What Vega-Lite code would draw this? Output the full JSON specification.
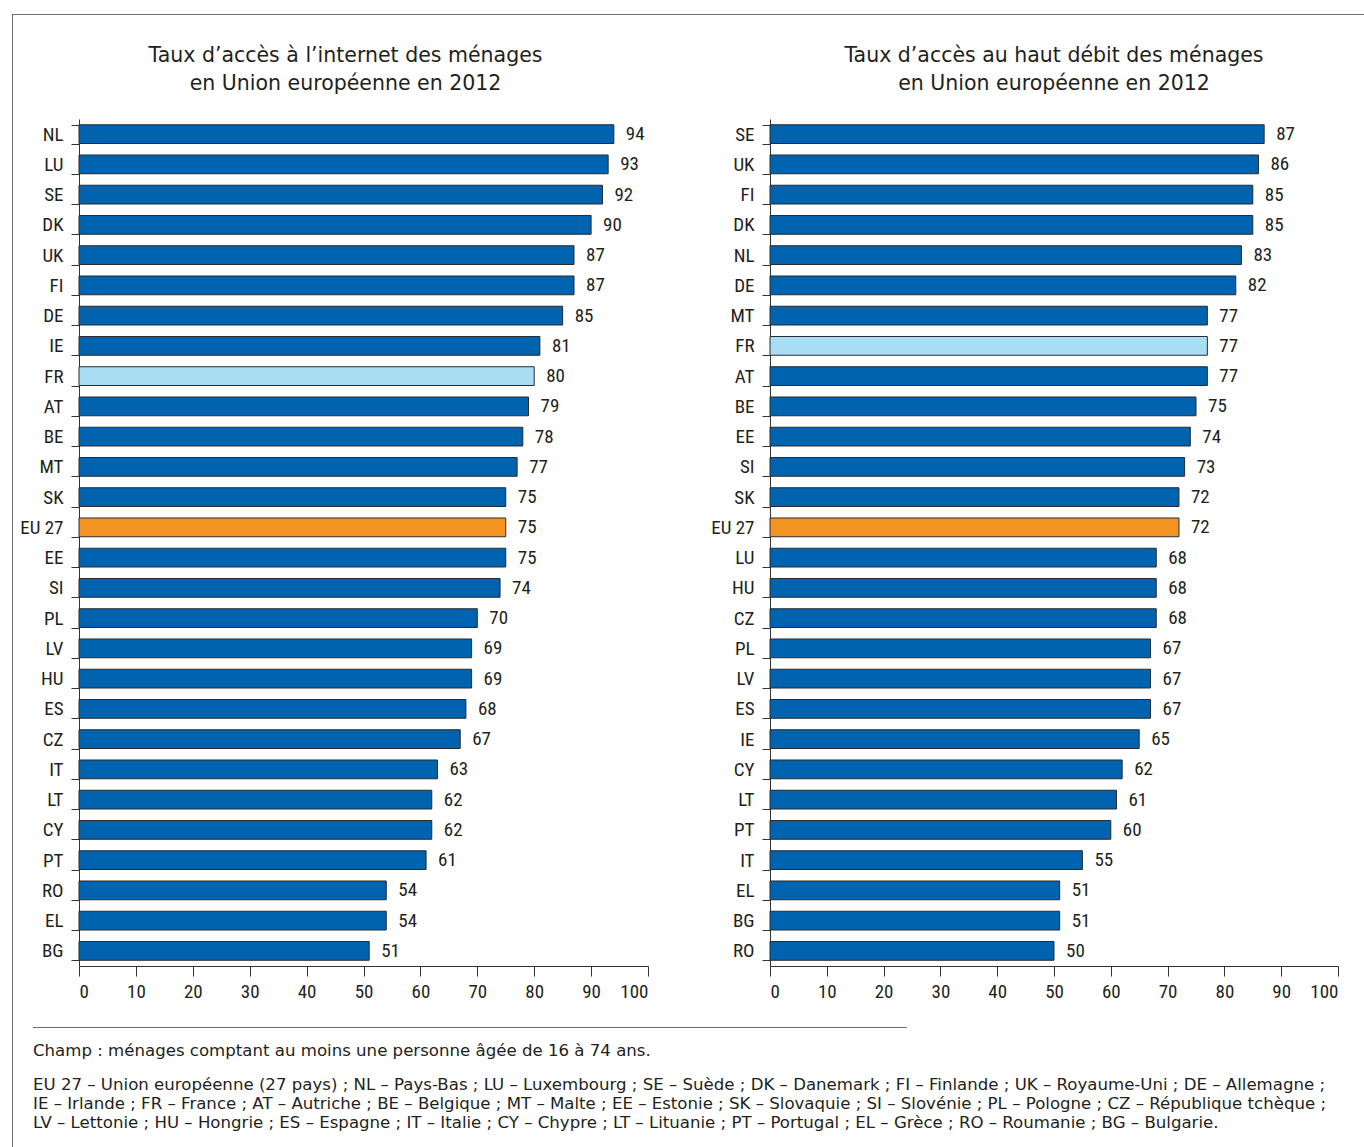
{
  "$schema": "https://vega.github.io/schema/vega-lite/v6.json",
  "padding": {"left": 12, "top": 14, "right": 0, "bottom": 0},
  "background": "white",
  "config": {
    "view": {"stroke": null},
    "font": "DejaVu Sans",
    "axis": {
      "domainColor": "#333333",
      "tickColor": "#333333",
      "labelColor": "#231f20",
      "labelFont": "Roboto Condensed, DejaVu Sans Condensed, Liberation Sans Narrow, sans-serif",
      "labelFontSize": 19,
      "grid": false,
      "title": null
    },
    "title": {"font": "DejaVu Sans", "fontSize": 20.5, "fontWeight": "normal", "color": "#231f20", "lineHeight": 28}
  },
  "datasets": {
    "internet": [
      {"pays": "NL", "taux": 94, "groupe": "pays"},
      {"pays": "LU", "taux": 93, "groupe": "pays"},
      {"pays": "SE", "taux": 92, "groupe": "pays"},
      {"pays": "DK", "taux": 90, "groupe": "pays"},
      {"pays": "UK", "taux": 87, "groupe": "pays"},
      {"pays": "FI", "taux": 87, "groupe": "pays"},
      {"pays": "DE", "taux": 85, "groupe": "pays"},
      {"pays": "IE", "taux": 81, "groupe": "pays"},
      {"pays": "FR", "taux": 80, "groupe": "France"},
      {"pays": "AT", "taux": 79, "groupe": "pays"},
      {"pays": "BE", "taux": 78, "groupe": "pays"},
      {"pays": "MT", "taux": 77, "groupe": "pays"},
      {"pays": "SK", "taux": 75, "groupe": "pays"},
      {"pays": "EU 27", "taux": 75, "groupe": "UE"},
      {"pays": "EE", "taux": 75, "groupe": "pays"},
      {"pays": "SI", "taux": 74, "groupe": "pays"},
      {"pays": "PL", "taux": 70, "groupe": "pays"},
      {"pays": "LV", "taux": 69, "groupe": "pays"},
      {"pays": "HU", "taux": 69, "groupe": "pays"},
      {"pays": "ES", "taux": 68, "groupe": "pays"},
      {"pays": "CZ", "taux": 67, "groupe": "pays"},
      {"pays": "IT", "taux": 63, "groupe": "pays"},
      {"pays": "LT", "taux": 62, "groupe": "pays"},
      {"pays": "CY", "taux": 62, "groupe": "pays"},
      {"pays": "PT", "taux": 61, "groupe": "pays"},
      {"pays": "RO", "taux": 54, "groupe": "pays"},
      {"pays": "EL", "taux": 54, "groupe": "pays"},
      {"pays": "BG", "taux": 51, "groupe": "pays"}
    ],
    "hautdebit": [
      {"pays": "SE", "taux": 87, "groupe": "pays"},
      {"pays": "UK", "taux": 86, "groupe": "pays"},
      {"pays": "FI", "taux": 85, "groupe": "pays"},
      {"pays": "DK", "taux": 85, "groupe": "pays"},
      {"pays": "NL", "taux": 83, "groupe": "pays"},
      {"pays": "DE", "taux": 82, "groupe": "pays"},
      {"pays": "MT", "taux": 77, "groupe": "pays"},
      {"pays": "FR", "taux": 77, "groupe": "France"},
      {"pays": "AT", "taux": 77, "groupe": "pays"},
      {"pays": "BE", "taux": 75, "groupe": "pays"},
      {"pays": "EE", "taux": 74, "groupe": "pays"},
      {"pays": "SI", "taux": 73, "groupe": "pays"},
      {"pays": "SK", "taux": 72, "groupe": "pays"},
      {"pays": "EU 27", "taux": 72, "groupe": "UE"},
      {"pays": "LU", "taux": 68, "groupe": "pays"},
      {"pays": "HU", "taux": 68, "groupe": "pays"},
      {"pays": "CZ", "taux": 68, "groupe": "pays"},
      {"pays": "PL", "taux": 67, "groupe": "pays"},
      {"pays": "LV", "taux": 67, "groupe": "pays"},
      {"pays": "ES", "taux": 67, "groupe": "pays"},
      {"pays": "IE", "taux": 65, "groupe": "pays"},
      {"pays": "CY", "taux": 62, "groupe": "pays"},
      {"pays": "LT", "taux": 61, "groupe": "pays"},
      {"pays": "PT", "taux": 60, "groupe": "pays"},
      {"pays": "IT", "taux": 55, "groupe": "pays"},
      {"pays": "EL", "taux": 51, "groupe": "pays"},
      {"pays": "BG", "taux": 51, "groupe": "pays"},
      {"pays": "RO", "taux": 50, "groupe": "pays"}
    ]
  },
  "vconcat": [
    {
      "width": 1352,
      "height": 1,
      "view": {"fill": "#6d6d6d", "stroke": null},
      "data": {"values": []},
      "mark": {"type": "point"},
      "encoding": {}
    },
    {
      "hconcat": [
        {
          "width": 1,
          "height": 1012,
          "view": {"fill": "#6d6d6d", "stroke": null},
          "data": {"values": []},
          "mark": {"type": "point"},
          "encoding": {}
        },
        {
          "vconcat": [
            {
              "width": 10,
              "height": 6,
              "data": {"values": []},
              "mark": {"type": "point"},
              "encoding": {}
            },
            {
              "hconcat": [
                {
                  "width": 569,
                  "height": 847,
                  "data": {"name": "internet"},
                  "title": {"text": ["Taux d’accès à l’internet des ménages", "en Union européenne en 2012"], "anchor": "middle", "offset": 16, "dx": -18},
                  "encoding": {
                    "y": {"field": "pays", "type": "nominal", "sort": null, "scale": {"paddingInner": 0.38, "paddingOuter": 0.19}, "axis": {"tickBand": "extent", "tickSize": 8, "labelPadding": 8}},
                    "x": {"field": "taux", "type": "quantitative", "scale": {"domain": [0, 100], "nice": false}, "axis": {"values": [0, 10, 20, 30, 40, 50, 60, 70, 80, 90, 100], "tickSize": 10, "labelPadding": 6}}
                  },
                  "layer": [
                    {
                      "mark": {"type": "bar", "stroke": "#2b2b2b", "strokeWidth": 1},
                      "encoding": {
                        "color": {"field": "groupe", "type": "nominal", "scale": {"domain": ["pays", "France", "UE"], "range": ["#0063af", "#a9ddf3", "#f39322"]}, "legend": null}
                      }
                    },
                    {
                      "mark": {"type": "text", "align": "left", "dx": 12, "font": "Roboto Condensed, DejaVu Sans Condensed, Liberation Sans Narrow, sans-serif", "fontSize": 19, "color": "#231f20"},
                      "encoding": {"text": {"field": "taux", "type": "quantitative"}}
                    }
                  ]
                },
                {
                  "width": 568,
                  "height": 847,
                  "data": {"name": "hautdebit"},
                  "title": {"text": ["Taux d’accès au haut débit des ménages", "en Union européenne en 2012"], "anchor": "middle", "offset": 16, "dx": 0},
                  "encoding": {
                    "y": {"field": "pays", "type": "nominal", "sort": null, "scale": {"paddingInner": 0.38, "paddingOuter": 0.19}, "axis": {"tickBand": "extent", "tickSize": 8, "labelPadding": 8}},
                    "x": {"field": "taux", "type": "quantitative", "scale": {"domain": [0, 100], "nice": false}, "axis": {"values": [0, 10, 20, 30, 40, 50, 60, 70, 80, 90, 100], "tickSize": 10, "labelPadding": 6}}
                  },
                  "layer": [
                    {
                      "mark": {"type": "bar", "stroke": "#2b2b2b", "strokeWidth": 1},
                      "encoding": {
                        "color": {"field": "groupe", "type": "nominal", "scale": {"domain": ["pays", "France", "UE"], "range": ["#0063af", "#a9ddf3", "#f39322"]}, "legend": null}
                      }
                    },
                    {
                      "mark": {"type": "text", "align": "left", "dx": 12, "font": "Roboto Condensed, DejaVu Sans Condensed, Liberation Sans Narrow, sans-serif", "fontSize": 19, "color": "#231f20"},
                      "encoding": {"text": {"field": "taux", "type": "quantitative"}}
                    }
                  ]
                }
              ],
              "spacing": 61
            }
          ],
          "spacing": 24
        }
      ],
      "spacing": 6
    },
    {
      "hconcat": [
        {
          "width": 1,
          "height": 125,
          "view": {"fill": "#6d6d6d", "stroke": null},
          "data": {"values": []},
          "mark": {"type": "point"},
          "encoding": {}
        },
        {
          "width": 874,
          "height": 1,
          "view": {"fill": "#6d6d6d", "stroke": null},
          "data": {"values": []},
          "mark": {"type": "point"},
          "encoding": {},
          "title": {
            "text": "Champ : ménages comptant au moins une personne âgée de 16 à 74 ans.",
            "subtitle": [
              "EU 27 – Union européenne (27 pays) ; NL – Pays-Bas ; LU – Luxembourg ; SE – Suède ; DK – Danemark ; FI – Finlande ; UK – Royaume-Uni ; DE – Allemagne ;",
              "IE – Irlande ; FR – France ; AT – Autriche ; BE – Belgique ; MT – Malte ; EE – Estonie ; SK – Slovaquie ; SI – Slovénie ; PL – Pologne ; CZ – République tchèque ;",
              "LV – Lettonie ; HU – Hongrie ; ES – Espagne ; IT – Italie ; CY – Chypre ; LT – Lituanie ; PT – Portugal ; EL – Grèce ; RO – Roumanie ; BG – Bulgarie."
            ],
            "orient": "bottom",
            "anchor": "start",
            "offset": 15,
            "font": "DejaVu Sans",
            "fontSize": 16.6,
            "lineHeight": 19,
            "subtitleFont": "DejaVu Sans",
            "subtitleFontSize": 16.6,
            "subtitleColor": "#231f20",
            "subtitleLineHeight": 19,
            "subtitlePadding": 17
          }
        }
      ],
      "spacing": 20
    }
  ],
  "spacing": 0
}
